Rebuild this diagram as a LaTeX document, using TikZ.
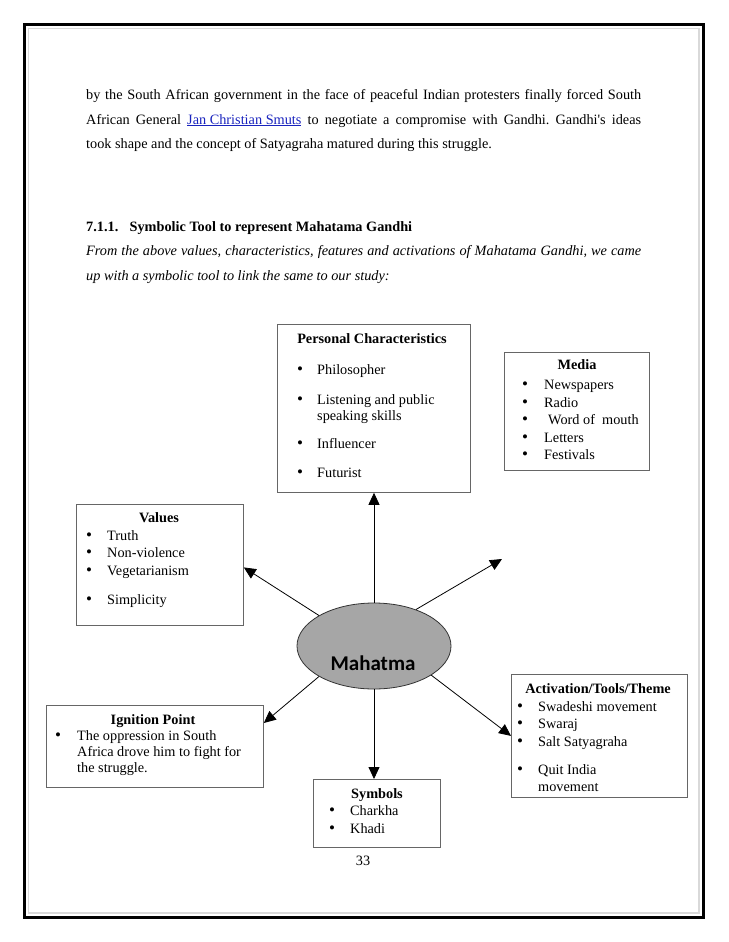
\documentclass[tikz,border=0pt]{standalone}
\usepackage{fontspec}
\setmainfont{Liberation Serif}
\newfontfamily\plainq{Liberation Serif}
\newfontfamily\calib{Carlito}
\usetikzlibrary{arrows.meta,shapes.geometric}
\definecolor{linkblue}{RGB}{25,35,190}
\definecolor{framegray}{RGB}{217,217,217}
\definecolor{ellgray}{RGB}{166,166,166}
\tikzset{
 txt/.style={anchor=base west, inner sep=0pt, font=\fontsize{14.28}{16}\selectfont},
 ttl/.style={anchor=base, inner sep=0pt, font=\fontsize{14.28}{16}\selectfont\bfseries},
 bul/.style={anchor=base, inner sep=0pt, font=\fontsize{17}{18}\selectfont},
 boxx/.style={draw=black!60, line width=0.8pt, inner sep=0pt, anchor=north west},
 arr/.style={draw=black, line width=0.8pt, -{Triangle[length=12pt,width=11pt]}},
}
\frenchspacing
\begin{document}
\begin{tikzpicture}[x=1pt,y=-1pt]
\useasboundingbox (0,0) rectangle (728,942);
% page frame
\draw[line width=3.4pt] (24.5,24.5) rectangle (703.5,917.5);
\draw[framegray, line width=1.5pt] (28.5,28.5) rectangle (699,913);

% body text
\node[txt] (l1) at (86,99.5) {\makebox[555pt][s]{by the South African government in the face of peaceful Indian protesters finally forced South}};
\node[txt] (l2) at (86,124.1) {\makebox[555pt][s]{African General \textcolor{linkblue}{\underline{Jan Christian Smuts}} to negotiate a compromise with Gandhi. Gandhi{\plainq'}s ideas}};
\node[txt] (l3) at (86,148.7) {took shape and the concept of Satyagraha matured during this struggle.};
\node[txt] (hn) at (86,231) {\bfseries 7.1.1.};
\node[txt] (ht) at (129.4,231) {\bfseries Symbolic Tool to represent Mahatama Gandhi};
\node[txt] (i1) at (86,255.6) {\makebox[555pt][s]{\itshape From the above values, characteristics, features and activations of Mahatama Gandhi, we came}};
\node[txt] (i2) at (86,280.2) {\itshape up with a symbolic tool to link the same to our study:};

% boxes
\node[boxx, minimum width=193pt, minimum height=168pt] (pc) at (277,324) {};
\node[boxx, minimum width=145pt, minimum height=118pt] (med) at (504,352) {};
\node[boxx, minimum width=167.3pt, minimum height=121pt] (vals) at (75.7,504) {};
\node[boxx, minimum width=217pt, minimum height=82pt] (ign) at (46,705) {};
\node[boxx, minimum width=127pt, minimum height=68pt] (sym) at (313,779) {};
\node[boxx, minimum width=176pt, minimum height=123pt] (act) at (511,674) {};

% ellipse
\node[ellipse, draw=black!80, line width=0.8pt, fill=ellgray, minimum width=154pt, minimum height=86pt, inner sep=0pt] (ell) at (374,646) {};
\node[anchor=base, inner sep=0pt, font=\calib\bfseries\fontsize{21}{24}\selectfont] (mt) at (373,670) {Mahatma};

% connectors
\coordinate (ur) at (502,559);
\draw[arr] (ell.north) -- (ell.north |- pc.south);
\draw[arr] (ell.151) -- ([yshift=-2.5pt]vals.east);
\draw[arr] (ell.41) -- (ur);
\draw[arr] (ell.209) -- ([yshift=-18pt]ign.north east);
\draw[arr] (ell.south) -- (ell.south |- sym.north);
\draw[arr] (ell.-27) -- (act.west);

% Personal Characteristics
\node[ttl] (pct) at (372,343) {Personal Characteristics};
\node[bul] (pb1) at (300,374) {\textbullet}; \node[txt] (p1) at (317,374) {Philosopher};
\node[bul] (pb2) at (300,404) {\textbullet}; \node[txt] (p2) at (317,404) {Listening and public};
\node[txt] (p2b) at (317,420.5) {speaking skills};
\node[bul] (pb3) at (300,448) {\textbullet}; \node[txt] (p3) at (317,448) {Influencer};
\node[bul] (pb4) at (300,477) {\textbullet}; \node[txt] (p4) at (317,477) {Futurist};

% Media
\node[ttl] (mdt) at (577,369) {Media};
\node[bul] (mb1) at (525,389) {\textbullet}; \node[txt] (m1) at (544,389) {Newspapers};
\node[bul] (mb2) at (525,407) {\textbullet}; \node[txt] (m2) at (544,407) {Radio};
\node[bul] (mb3) at (525,424) {\textbullet}; \node[txt] (m3) at (548,424) {Word of\ \ mouth};
\node[bul] (mb4) at (525,442) {\textbullet}; \node[txt] (m4) at (544,442) {Letters};
\node[bul] (mb5) at (525,459) {\textbullet}; \node[txt] (m5) at (544,459) {Festivals};

% Values
\node[ttl] (vt) at (159,522) {Values};
\node[bul] (vb1) at (89,540) {\textbullet}; \node[txt] (v1) at (107,540) {Truth};
\node[bul] (vb2) at (89,557) {\textbullet}; \node[txt] (v2) at (107,557) {Non-violence};
\node[bul] (vb3) at (89,575) {\textbullet}; \node[txt] (v3) at (107,575) {Vegetarianism};
\node[bul] (vb4) at (89,604) {\textbullet}; \node[txt] (v4) at (107,604) {Simplicity};

% Ignition Point
\node[ttl] (it) at (153,724) {Ignition Point};
\node[bul] (ib1) at (58,740) {\textbullet};
\node[txt] (ig1) at (77,740) {The oppression in South};
\node[txt] (ig2) at (77,756) {Africa drove him to fight for};
\node[txt] (ig3) at (77,772) {the struggle.};

% Symbols
\node[ttl] (st) at (377,798) {Symbols};
\node[bul] (sb1) at (332,815) {\textbullet}; \node[txt] (s1) at (350,815) {Charkha};
\node[bul] (sb2) at (332,833) {\textbullet}; \node[txt] (s2) at (350,833) {Khadi};

% Activation
\node[ttl] (at) at (598,693) {Activation/Tools/Theme};
\node[bul] (ab1) at (520,711) {\textbullet}; \node[txt] (a1) at (538,711) {Swadeshi movement};
\node[bul] (ab2) at (520,728) {\textbullet}; \node[txt] (a2) at (538,728) {Swaraj};
\node[bul] (ab3) at (520,746) {\textbullet}; \node[txt] (a3) at (538,746) {Salt Satyagraha};
\node[bul] (ab4) at (520,774) {\textbullet}; \node[txt] (a4) at (538,774) {Quit India};
\node[txt] (a4b) at (538,791) {movement};

% page number
\node[anchor=base, inner sep=0pt, font=\fontsize{14.28}{16}\selectfont] (pg) at (363,865) {33};
\end{tikzpicture}
\end{document}
